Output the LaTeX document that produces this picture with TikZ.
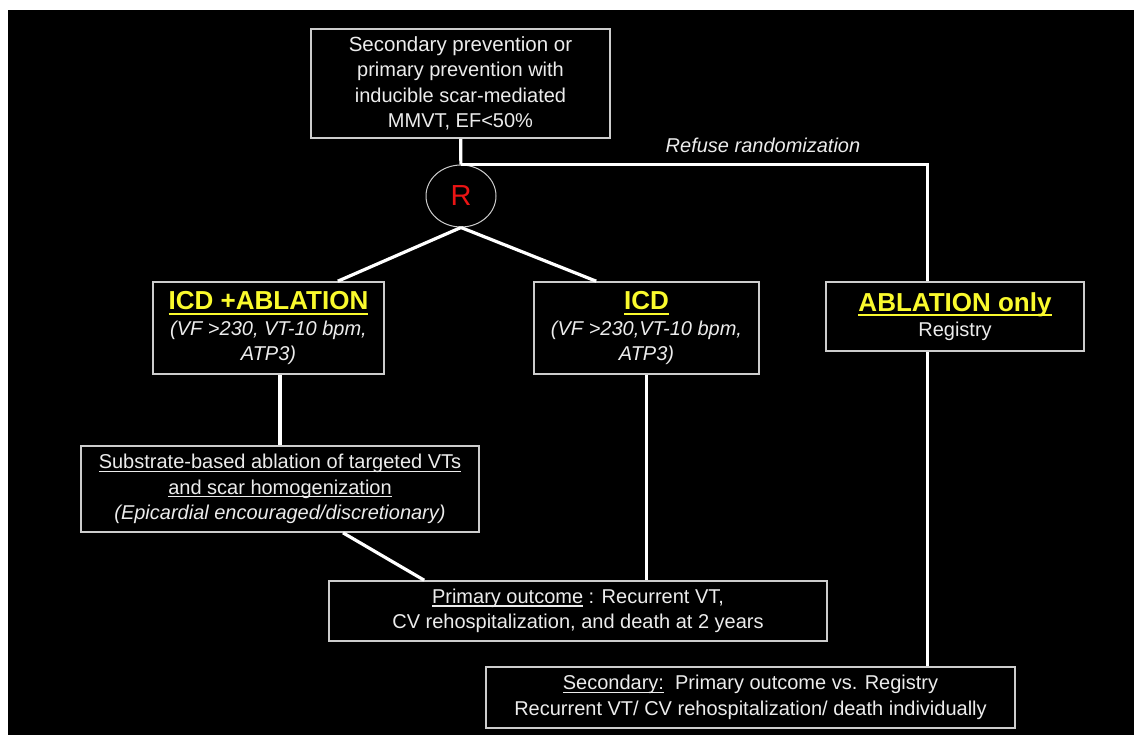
\documentclass[tikz,border=0pt]{standalone}
\usepackage{fontspec}
\setmainfont{Liberation Sans}
\usetikzlibrary{shapes.geometric}
\usepackage{xcolor}
\definecolor{boxgray}{RGB}{205,205,205}
\definecolor{txtwhite}{RGB}{236,236,236}
\definecolor{hiyellow}{RGB}{250,250,45}
\definecolor{randred}{RGB}{235,20,20}

\newsavebox\undlbox
% underline: offset below baseline, thickness, text
\newcommand{\undl}[3]{\leavevmode\sbox\undlbox{#3}\rlap{\vrule height -#1 depth \dimexpr#1+#2\relax width \wd\undlbox}\usebox\undlbox}
\newcommand{\armtitle}[1]{{\bfseries\fontsize{26}{28}\selectfont\color{hiyellow}\undl{3pt}{2pt}{#1}}}

\begin{document}
\begin{tikzpicture}[x=1pt,y=-1pt,
	every node/.style={text=txtwhite,font=\fontsize{20}{25.5}\selectfont},
	main node/.style={rectangle,draw=boxgray,line width=1.6pt,align=center,inner sep=0pt},
	rand node/.style={ellipse,draw=boxgray,line width=1pt,minimum width=70pt,minimum height=62pt,inner sep=0pt},
	link/.style={draw=white,line width=3.2pt}]

	\useasboundingbox (0,0) rectangle (1134,735);
	\fill[white] (0,0) rectangle (1134,735);
	\fill[black] (8,10) rectangle (1134,735);

	\node[main node,minimum width=299pt,minimum height=109pt] (prev) at (460.5,83.5) {\fontsize{20.5}{24.5}\selectfont Secondary prevention or\\primary prevention with\\inducible scar-mediated\\MMVT, EF<50\%};
	\node[rand node] (R) at (461,196) {\color{randred}\fontsize{29}{29}\selectfont R};
	\node (refuse) at (763,145) {\itshape Refuse randomization};

	\node[main node,minimum width=231pt,minimum height=92pt] (icdabl) at (268.5,328) {\armtitle{ICD +ABLATION}\\\textit{(VF >230, VT-10 bpm,}\\\textit{ATP3)}};
	\node[main node,minimum width=225pt,minimum height=92pt] (icd) at (646.5,328) {\armtitle{ICD}\\\textit{(VF >230,VT-10 bpm,}\\\textit{ATP3)}};
	\node[main node,minimum width=258pt,minimum height=69pt] (ablonly) at (955,316.5) {\armtitle{ABLATION only}\\Registry};

	\node[main node,minimum width=398pt,minimum height=86pt] (subst) at (280,489) {\undl{2pt}{1.3pt}{Substrate-based ablation of targeted VTs}\\\undl{2pt}{1.3pt}{and scar homogenization}\\\textit{(Epicardial encouraged/discretionary)}};
	\node[main node,minimum width=498pt,minimum height=60pt] (prim) at (578,611) {\undl{2pt}{1.3pt}{Primary outcome} : Recurrent VT,\\CV rehospitalization, and death at 2 years};
	\node[main node,minimum width=529pt,minimum height=61pt] (sec) at (750.5,697.5) {\undl{2pt}{1.3pt}{Secondary:}\ \ Primary outcome vs. Registry\\Recurrent VT/ CV rehospitalization/ death individually};

	\draw[link] (R.north) -| ([xshift=102pt]ablonly.north west);
	\path[link]
	(prev) edge (R)
	(R.south) edge ([xshift=-47pt]icdabl.north east)
	(R.south) edge ([xshift=63pt]icd.north west)
	(icdabl.south -| subst.north) edge (subst.north)
	([xshift=63pt]subst.south) edge ([xshift=96pt]prim.north west)
	(icd.south) edge (icd.south |- prim.north)
	([xshift=102pt]ablonly.south west) edge ([xshift=102pt]ablonly.south west |- sec.north)
	;
\end{tikzpicture}
\end{document}
